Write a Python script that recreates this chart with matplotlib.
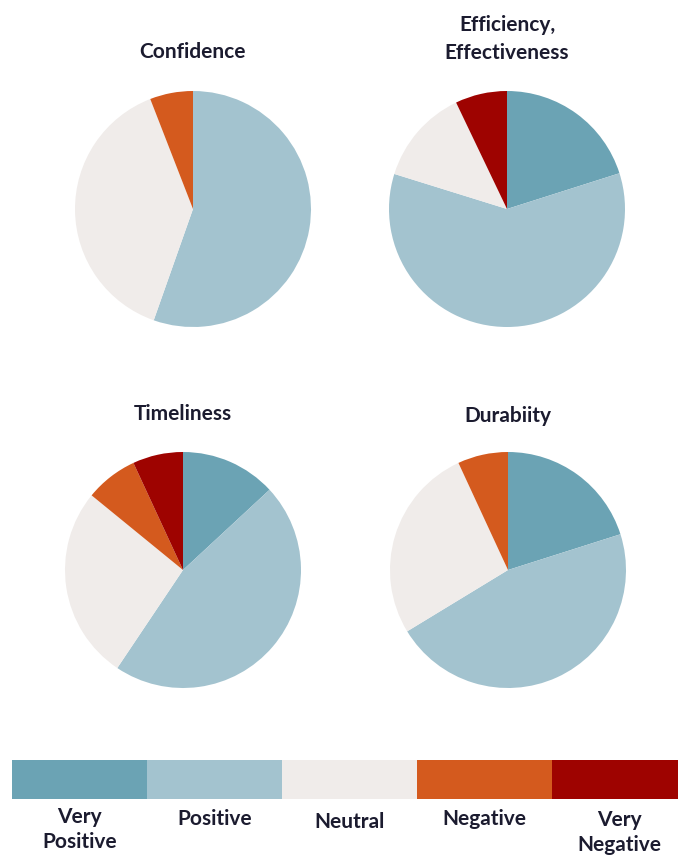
import numpy as np
import matplotlib
matplotlib.use("Agg")
import matplotlib.pyplot as plt

# -------------------------------
# DATA
# -------------------------------
categories = ["Very\nPositive", "Positive", "Neutral", "Negative", "Very\nNegative"]
colors = ["#6ba3b4", "#a3c3cf", "#f0ecea", "#d45a1e", "#9e0300"]

titles = ["Confidence", "Efficiency,\nEffectiveness", "Timeliness", "Durabiity"]
confidence = [0, 55.4, 38.7, 5.9, 0]
efficiency = [20.1, 59.7, 13.1, 0, 7.1]
timeliness = [13.1, 46.3, 26.5, 7.2, 6.9]
durability = [20.1, 46.2, 26.8, 6.9, 0]
series = [confidence, efficiency, timeliness, durability]

# -------------------------------
# LAYOUT (pixels)
# -------------------------------
W, H = 678, 863
text_color = "#1b1b2f"
plt.rcParams["font.family"] = ["Lato", "DejaVu Sans"]

fig = plt.figure(figsize=(W / 100, H / 100), dpi=100)

centers = [(193, 209), (507, 209), (183, 570), (508, 570)]
title_y = [52, 39, 414, 416]
r = 118

for vals, title, (cx, cy), ty in zip(series, titles, centers, title_y):
    ax = fig.add_axes([(cx - r) / W, (H - cy - r) / H, 2 * r / W, 2 * r / H])
    ax.pie(vals, colors=colors, startangle=90, counterclock=False, radius=1,
           wedgeprops=dict(linewidth=0))
    ax.set_xlim(-1, 1)
    ax.set_ylim(-1, 1)
    ax.axis("off")
    fig.text(cx / W, 1 - ty / H, title, ha="center", va="center",
             fontsize=15, fontweight="bold", color=text_color, linespacing=1.45)

# -------------------------------
# COLOUR KEY
# -------------------------------
seg = 135
lax = fig.add_axes([12 / W, (H - 799) / H, 5 * seg / W, 39 / H])
lax.barh(0, [1] * len(categories), left=np.arange(len(categories)), height=1,
         color=colors, linewidth=0)
lax.set_xlim(0, len(categories))
lax.set_ylim(-0.5, 0.5)
lax.axis("off")

label_top = [807, 809, 812, 809, 810]
for i, (lab, top) in enumerate(zip(categories, label_top)):
    fig.text((12 + seg * (i + 0.5)) / W, 1 - top / H, lab, ha="center", va="top",
             fontsize=15, fontweight="bold", color=text_color, linespacing=1.3)

fig.savefig("out.png", dpi=100)
